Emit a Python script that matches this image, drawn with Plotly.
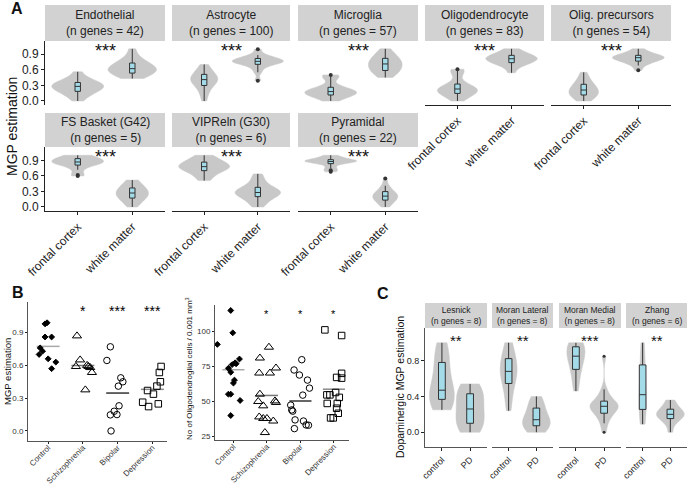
import numpy as np
import plotly.graph_objects as go

W, H = 688, 487
FONT = "Liberation Sans, Arial, Helvetica, sans-serif"
VIOLIN_GREY = "#c8c8c8"
BOX_BLUE = "#a3dbe8"
STRIP_GREY = "#d2d2d2"
INK = "#222222"

# ---------------- Panel A: MGP estimations, frontal cortex vs white matter ----------------
regions = ["frontal cortex", "white matter"]

endothelial_fc = [0.00, 0.08, 0.13, 0.17, 0.19, 0.21, 0.24, 0.26, 0.28, 0.29, 0.31, 0.33, 0.35, 0.37, 0.40, 0.45, 0.56]
endothelial_wm = [0.43, 0.47, 0.50, 0.52, 0.54, 0.57, 0.59, 0.61, 0.62, 0.64, 0.66, 0.69, 0.72, 0.75, 0.79, 0.86, 1.00]
astrocyte_fc = [0.00, 0.12, 0.20, 0.26, 0.31, 0.34, 0.37, 0.39, 0.41, 0.43, 0.45, 0.47, 0.50, 0.54, 0.58, 0.63, 0.70]
astrocyte_wm = [0.39, 0.55, 0.63, 0.68, 0.71, 0.73, 0.74, 0.75, 0.76, 0.77, 0.78, 0.79, 0.81, 0.83, 0.86, 0.88, 0.99]
microglia_fc = [0.00, 0.05, 0.08, 0.10, 0.12, 0.14, 0.15, 0.17, 0.18, 0.19, 0.20, 0.22, 0.25, 0.30, 0.45, 0.47, 0.50]
microglia_wm = [0.45, 0.50, 0.54, 0.57, 0.59, 0.62, 0.65, 0.68, 0.71, 0.73, 0.75, 0.78, 0.81, 0.84, 0.88, 0.93, 1.00]
oligo_fc = [0.00, 0.06, 0.10, 0.13, 0.15, 0.17, 0.19, 0.21, 0.23, 0.24, 0.26, 0.28, 0.30, 0.40, 0.55, 0.58, 0.61]
oligo_wm = [0.54, 0.65, 0.69, 0.72, 0.74, 0.76, 0.78, 0.80, 0.81, 0.82, 0.83, 0.85, 0.87, 0.89, 0.92, 0.95, 1.00]
opc_fc = [0.00, 0.04, 0.07, 0.10, 0.12, 0.14, 0.16, 0.18, 0.21, 0.23, 0.25, 0.28, 0.31, 0.35, 0.40, 0.46, 0.55]
opc_wm = [0.59, 0.68, 0.72, 0.75, 0.77, 0.79, 0.80, 0.82, 0.83, 0.84, 0.85, 0.86, 0.87, 0.89, 0.92, 0.95, 1.00]
fsbasket_fc = [0.60, 0.62, 0.72, 0.78, 0.82, 0.84, 0.85, 0.86, 0.87, 0.88, 0.89, 0.91, 0.93, 0.95, 0.97, 0.99, 1.00]
fsbasket_wm = [0.00, 0.06, 0.10, 0.15, 0.18, 0.20, 0.22, 0.24, 0.27, 0.29, 0.31, 0.33, 0.36, 0.39, 0.43, 0.47, 0.52]
vipreln_fc = [0.51, 0.58, 0.63, 0.68, 0.71, 0.73, 0.75, 0.77, 0.78, 0.80, 0.81, 0.83, 0.86, 0.89, 0.92, 0.96, 1.00]
vipreln_wm = [0.00, 0.07, 0.12, 0.17, 0.21, 0.23, 0.25, 0.27, 0.28, 0.30, 0.32, 0.34, 0.37, 0.41, 0.47, 0.55, 0.64]
pyramidal_fc = [0.68, 0.71, 0.75, 0.80, 0.85, 0.86, 0.87, 0.88, 0.88, 0.89, 0.90, 0.90, 0.91, 0.93, 0.95, 0.97, 1.00]
pyramidal_wm = [0.00, 0.05, 0.08, 0.11, 0.14, 0.16, 0.18, 0.20, 0.21, 0.22, 0.24, 0.26, 0.29, 0.32, 0.36, 0.41, 0.55]

a_cells = ["Endothelial", "Astrocyte", "Microglia", "Oligodendrocyte", "Olig. precursors",
           "FS Basket (G42)", "VIPReln (G30)", "Pyramidal"]
a_ngenes = [42, 100, 57, 83, 54, 5, 6, 22]
a_stars = ["***", "***", "***", "***", "***", "***", "***", "***"]
a_values = [
    (endothelial_fc, endothelial_wm), (astrocyte_fc, astrocyte_wm), (microglia_fc, microglia_wm),
    (oligo_fc, oligo_wm), (opc_fc, opc_wm), (fsbasket_fc, fsbasket_wm),
    (vipreln_fc, vipreln_wm), (pyramidal_fc, pyramidal_wm),
]

# ---------------- Panel B: post-mortem cohorts ----------------
b_groups = ["Control", "Schizophrenia", "Bipolar", "Depression"]
b_symbols = ["diamond", "triangle-up-open", "circle-open", "square-open"]
b_sizes = [4.5, 8, 6.5, 6.5]
b_mean_colors = ["#a8a8a8", "#777777", "#333333", "#8a8a8a"]

mgp_control = [0.99, 0.98, 0.86, 0.86, 0.76, 0.73, 0.70, 0.66, 0.63, 0.57]
mgp_control_jit = [-0.03, -0.09, -0.09, 0.10, -0.23, -0.16, -0.26, 0.00, 0.22, 0.10]
mgp_scz = [0.87, 0.65, 0.59, 0.60, 0.59, 0.58, 0.535, 0.376]
mgp_scz_jit = [-0.17, -0.08, -0.20, 0.12, 0.16, 0.21, 0.26, 0.07]
mgp_bp = [0.77, 0.645, 0.486, 0.45, 0.41, 0.23, 0.18, 0.147, 0.15, 0.0]
mgp_bp_jit = [-0.21, -0.31, 0.09, 0.15, 0.02, 0.04, -0.10, -0.21, -0.02, -0.19]
mgp_dep = [0.59, 0.535, 0.45, 0.41, 0.37, 0.337, 0.263, 0.248, 0.223]
mgp_dep_jit = [0.25, 0.20, 0.23, 0.13, -0.14, 0.03, -0.28, 0.17, -0.11]
b_stars_mgp = ["", "*", "***", "***"]

cells_control = [114.7, 98.8, 90.6, 80.2, 77.5, 76.8, 76.2, 73.6, 70.8, 65.2, 63.1, 55.2, 55.2, 50.7, 40.0]
cells_control_jit = [-0.08, -0.02, -0.48, 0.18, 0.05, 0.08, -0.04, -0.15, -0.08, 0.03, 0.00, -0.15, -0.08, 0.20, -0.08]
cells_scz = [88.6, 80.9, 73.8, 70.2, 70.2, 55.2, 50.0, 50.4, 49.3, 46.9, 39.0, 37.9, 37.9, 36.1, 27.9]
cells_scz_jit = [0.06, -0.21, 0.27, -0.23, 0.09, -0.21, -0.26, 0.24, 0.27, -0.11, -0.23, -0.11, 0.00, 0.19, -0.06]
cells_bp = [79.7, 72.4, 68.8, 65.2, 59.5, 54.5, 47.4, 44.0, 43.1, 36.9, 36.1, 33.3, 33.1, 30.7]
cells_bp_jit = [0.04, -0.19, -0.03, 0.21, 0.27, 0.07, -0.29, -0.26, -0.23, -0.16, 0.09, 0.17, 0.24, -0.18]
cells_dep = [100.9, 96.9, 70.0, 67.1, 66.6, 54.7, 54.7, 56.4, 52.9, 48.6, 48.6, 45.2, 41.6, 38.3, 38.3]
cells_dep_jit = [-0.27, 0.23, 0.23, 0.08, 0.23, -0.21, -0.12, 0.05, 0.16, -0.20, 0.10, 0.08, 0.13, -0.10, -0.02]
b_stars_cells = ["", "*", "*", "*"]

# ---------------- Panel C: dopaminergic MGP in Parkinson's ----------------
conditions = ["control", "PD"]
c_sets = ["Lesnick", "Moran Lateral", "Moran Medial", "Zhang"]
c_ngenes = [8, 8, 8, 6]
c_stars = ["**", "**", "***", "**"]
lesnick_ctrl = [0.25, 0.28, 0.33, 0.38, 0.41, 0.44, 0.47, 0.55, 0.66, 0.76, 0.84, 0.92, 1.00]
lesnick_pd = [0.00, 0.03, 0.07, 0.11, 0.16, 0.21, 0.26, 0.31, 0.37, 0.42, 0.46, 0.50, 0.54]
moranlat_ctrl = [0.24, 0.36, 0.47, 0.57, 0.61, 0.65, 0.68, 0.71, 0.76, 0.81, 0.86, 0.93, 1.00]
moranlat_pd = [0.00, 0.02, 0.05, 0.08, 0.10, 0.12, 0.14, 0.17, 0.21, 0.26, 0.30, 0.35, 0.40]
moranmed_ctrl = [0.46, 0.56, 0.65, 0.72, 0.77, 0.81, 0.85, 0.88, 0.92, 0.95, 0.97, 0.99, 1.00]
moranmed_pd = [0.00, 0.10, 0.15, 0.19, 0.22, 0.24, 0.26, 0.28, 0.29, 0.30, 0.31, 0.32, 0.34, 0.37, 0.42, 0.48, 0.85]
zhang_ctrl = [0.09, 0.15, 0.21, 0.27, 0.33, 0.38, 0.42, 0.50, 0.62, 0.73, 0.82, 0.91, 1.00]
zhang_pd = [0.00, 0.10, 0.13, 0.16, 0.18, 0.19, 0.20, 0.22, 0.23, 0.25, 0.28, 0.32, 0.36]
c_values = [(lesnick_ctrl, lesnick_pd), (moranlat_ctrl, moranlat_pd),
            (moranmed_ctrl, moranmed_pd), (zhang_ctrl, zhang_pd)]

# ---------------- figure helpers ----------------
fig = go.Figure()
axes_layout = {}
annotations = []
shapes = []
n_axes = 0

HIDDEN = dict(showline=False, ticks="", showticklabels=False)


def add_axes(x0, x1, y0, y1, xopts, yopts):
    """Create an x/y axis pair whose plot area spans pixel box (x0..x1, y0..y1)."""
    global n_axes
    n_axes += 1
    s = "" if n_axes == 1 else str(n_axes)
    base = dict(showgrid=False, zeroline=False, linecolor=INK, linewidth=1, tickcolor=INK,
                ticklen=3, tickwidth=1, fixedrange=True)
    axes_layout["xaxis" + s] = {**base, "domain": [x0 / W, x1 / W], "anchor": "y" + s, **xopts}
    axes_layout["yaxis" + s] = {**base, "domain": [1 - y1 / H, 1 - y0 / H], "anchor": "x" + s, **yopts}
    return "x" + s, "y" + s


def note(**kw):
    kw.setdefault("showarrow", False)
    kw.setdefault("xanchor", "center")
    kw.setdefault("yanchor", "middle")
    annotations.append(kw)


def strip(x0, x1, y0, y1, text, size):
    shapes.append(dict(type="rect", xref="paper", yref="paper", x0=x0 / W, x1=x1 / W,
                       y0=1 - y1 / H, y1=1 - y0 / H, fillcolor=STRIP_GREY, line=dict(width=0), layer="below"))
    note(xref="paper", yref="paper", x=(x0 + x1) / 2 / W, y=1 - (y0 + y1) / 2 / H,
         text=text, font=dict(size=size, color=INK))


def paper_text(x, y, text, size, angle=0, bold=False):
    if bold:
        text = f"<b>{text}</b>"
    note(xref="paper", yref="paper", x=x / W, y=1 - y / H, text=text, textangle=angle,
         font=dict(size=size, color="#111111"))


def violin_box(xa, ya, cats, groups, vwidth, bwidth, msize):
    xs = [c for c, g in zip(cats, groups) for _ in g]
    ys = [v for g in groups for v in g]
    fig.add_trace(go.Violin(x=xs, y=ys, xaxis=xa, yaxis=ya, width=vwidth, spanmode="hard", points=False,
                            fillcolor=VIOLIN_GREY, line=dict(color=VIOLIN_GREY, width=0.5),
                            hoverinfo="skip", showlegend=False))
    fig.add_trace(go.Box(x=xs, y=ys, xaxis=xa, yaxis=ya, width=bwidth, fillcolor=BOX_BLUE,
                         line=dict(color="#333333", width=1), whiskerwidth=0, boxpoints="outliers",
                         marker=dict(color="#333333", size=msize), hoverinfo="skip", showlegend=False))


# ---------------- Panel A ----------------
a_cols = [(45, 165), (172, 290), (298, 418), (425, 544), (551, 671)]
a_rows = [dict(strip=(5, 41), plot=(41, 105), yr=[-0.077, 1.15]),
          dict(strip=(113, 147), plot=(147, 211), yr=[-0.078, 1.16])]

for i, (cell, ng, (fc, wm)) in enumerate(zip(a_cells, a_ngenes, a_values)):
    row = 0 if i < 5 else 1
    col = i if i < 5 else i - 5
    x0, x1 = a_cols[col]
    r = a_rows[row]
    show_x = row == 1 or col >= 3
    show_y = col == 0
    xopts = dict(type="category", categoryorder="array", categoryarray=regions, range=[-0.6, 1.6])
    if show_x:
        xopts.update(showline=True, ticks="outside", tickangle=-45, tickfont=dict(size=12, color=INK))
    else:
        xopts.update(HIDDEN)
    yopts = dict(range=r["yr"], tickvals=[0, 0.3, 0.6, 0.9], tickformat=".1f")
    if show_y:
        yopts.update(showline=True, ticks="outside", tickfont=dict(size=12, color=INK))
    else:
        yopts.update(HIDDEN)
    xa, ya = add_axes(x0, x1, r["plot"][0], r["plot"][1], xopts, yopts)
    violin_box(xa, ya, regions, [fc, wm], 0.95, 0.1, 4)
    strip(x0, x1, r["strip"][0], r["strip"][1], f"{cell}<br>(n genes = {ng})", 12)
    # stars hang just below the strip
    note(xref=xa, yref="paper", x=0.5, y=1 - (r["plot"][0] - 2) / H, yanchor="top",
         text=a_stars[i], font=dict(size=18, color="#111111"))

paper_text(17, 9, "A", 16, bold=True)
paper_text(12, 127, "MGP estimation", 14, angle=-90)

# ---------------- Panel B ----------------
b_cats = list(range(len(b_groups)))
b_mgp = [(mgp_control, mgp_control_jit), (mgp_scz, mgp_scz_jit), (mgp_bp, mgp_bp_jit), (mgp_dep, mgp_dep_jit)]
b_cells = [(cells_control, cells_control_jit), (cells_scz, cells_scz_jit),
           (cells_bp, cells_bp_jit), (cells_dep, cells_dep_jit)]

b_panels = [
    dict(box=(28, 167, 302, 441), data=b_mgp, yr=[-0.092, 1.18], tv=[0, 0.3, 0.6, 0.9], tf=".1f",
         stars=b_stars_mgp, star_y=1.1, star_size=14, xr=[-0.58, 3.42]),
    dict(box=(215, 349, 305, 440), data=b_cells, yr=[22.6, 118.6], tv=[25, 50, 75, 100], tf="d",
         stars=b_stars_cells, star_y=112, star_size=11, xr=[-0.55, 3.45]),
]
for p in b_panels:
    x0, x1, y0, y1 = p["box"]
    xopts = dict(range=p["xr"], tickvals=b_cats, ticktext=b_groups, showline=True, ticks="outside",
                 ticklen=2, tickangle=-45, ticklabelstandoff=-4, tickfont=dict(size=8, color="#333333"),
                 linecolor="#555555")
    yopts = dict(range=p["yr"], tickvals=p["tv"], tickformat=p["tf"], showline=True, ticks="outside",
                 ticklen=2, tickfont=dict(size=8, color="#333333"), linecolor="#555555")
    xa, ya = add_axes(x0, x1, y0, y1, xopts, yopts)
    for k, (vals, jit) in enumerate(p["data"]):
        m = float(np.mean(vals))
        fig.add_trace(go.Scatter(x=[k - 0.33, k + 0.33], y=[m, m], xaxis=xa, yaxis=ya, mode="lines",
                                 line=dict(color=b_mean_colors[k], width=1.5), hoverinfo="skip", showlegend=False))
        fig.add_trace(go.Scatter(x=[k + j for j in jit], y=vals, xaxis=xa, yaxis=ya, mode="markers",
                                 marker=dict(symbol=b_symbols[k], size=b_sizes[k], color="#000000",
                                             line=dict(width=1, color="#000000")),
                                 hoverinfo="skip", showlegend=False))
        if p["stars"][k]:
            note(xref=xa, yref=ya, x=k, y=p["star_y"], text=p["stars"][k],
                 font=dict(size=p["star_size"], color="#000000"))

paper_text(18, 292, "B", 16, bold=True)
paper_text(7, 372, "MGP estimation", 9.5, angle=-90)
paper_text(189, 369, "No of Oligodendroglial cells / 0.001 mm<sup>3</sup>", 8, angle=-90)

# ---------------- Panel C ----------------
c_cols = [(425, 487), (492, 553), (559, 621), (626, 687)]
for i, (name, ng, (ctrl, pd_vals)) in enumerate(zip(c_sets, c_ngenes, c_values)):
    x0, x1 = c_cols[i]
    xopts = dict(type="category", categoryorder="array", categoryarray=conditions, range=[-0.6, 1.6],
                 showline=True, ticks="outside", tickangle=-45, tickfont=dict(size=9, color=INK),
                 linecolor="#555555")
    yopts = dict(range=[-0.165, 1.165], tickvals=[0, 0.4, 0.8], tickformat=".1f")
    if i == 0:
        yopts.update(showline=True, ticks="outside", tickfont=dict(size=9, color=INK), linecolor="#555555")
    else:
        yopts.update(HIDDEN)
    xa, ya = add_axes(x0, x1, 328, 447, xopts, yopts)
    violin_box(xa, ya, conditions, [ctrl, pd_vals], 1.0, 0.24, 3)
    strip(x0, x1, 303, 328, f"{name}<br>(n genes = {ng})", 8.5)
    note(xref=xa, yref=ya, x=0.5, y=1.02, text=c_stars[i], font=dict(size=15, color="#111111"))

paper_text(383, 293, "C", 16, bold=True)
paper_text(400, 387, "Dopaminergic MGP estimation", 10.5, angle=-90)

fig.update_layout(
    width=W, height=H, margin=dict(l=0, r=0, t=0, b=0),
    template="none", paper_bgcolor="white", plot_bgcolor="rgba(0,0,0,0)",
    font=dict(family=FONT, color=INK),
    boxmode="overlay", violinmode="overlay", showlegend=False,
    annotations=annotations, shapes=shapes, **axes_layout,
)
# the page body has a default 8px margin; remove it so the chart fills the window exactly
fig.write_html("out.html", config={"displayModeBar": False},
               post_script="document.body.style.margin='0px';")
